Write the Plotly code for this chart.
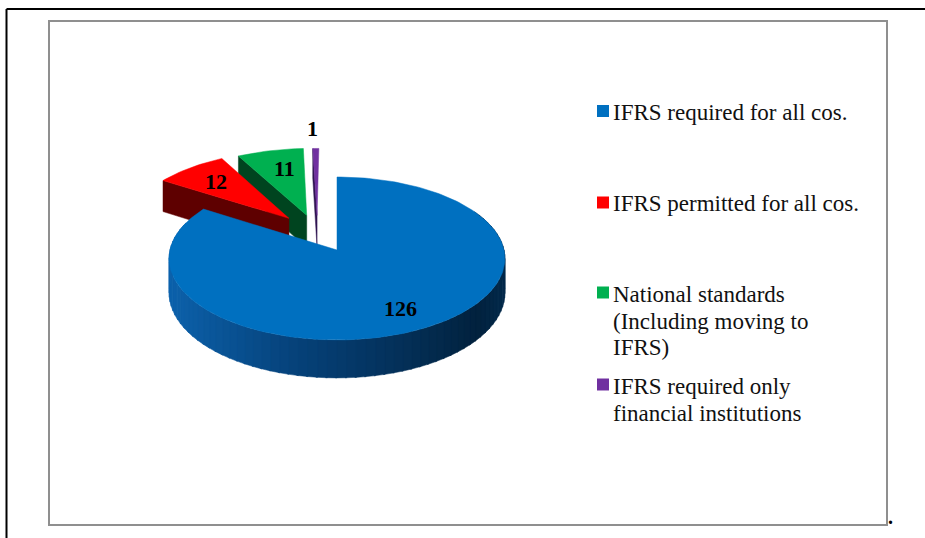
import math
import plotly.graph_objects as go

# ---- data ----
categories = [["IFRS required for all cos."], ["IFRS permitted for all cos."],
              ["National standards", "(Including moving to", "IFRS)"],
              ["IFRS required only", "financial institutions"]]
values = [126, 12, 11, 1]
value_labels = ["126", "12", "11", "1"]

# ---- styles ----
top_colors = ["#0070c0", "#ff0000", "#00b050", "#7030a0"]
face_colors = ["#0a4f8c", "#5e0000", "#00441f", "#2f1450"]
# slice displacement (pie-plane units): blue stays, others pulled out and back
explode = [(0, 0), (-0.30, 0.41), (-0.19, 0.45), (-0.125, 0.45)]
label_xy = [(400, 308), (216, 181), (284, 168), (312, 128)]
legend_y = [111, 202.5, 292.5, 384.5]
legend_text_y = [[112], [203], [294, 321, 347], [386, 413]]

CX, CY, RX, RY, K, DEPTH = 337, 250, 167, 80.6, 0.104, 34
FONT = "Liberation Serif"


def project(wx, wy, drop=0.0):
    s = 1 / (1 + K * wy)
    return CX + RX * wx * s, CY - RY * wy * s + drop * s


def rim(a0, a1, off, drop=0.0, n=None):
    n = n or max(3, int(abs(a1 - a0) / 1.5))
    pts = []
    for i in range(n + 1):
        t = math.radians(a0 + (a1 - a0) * i / n)
        pts.append(project(math.sin(t) + off[0], math.cos(t) + off[1], drop))
    return pts


def poly(fig, pts, color):
    xs = [p[0] for p in pts] + [pts[0][0]]
    ys = [p[1] for p in pts] + [pts[0][1]]
    fig.add_trace(go.Scatter(x=xs, y=ys, mode="lines", fill="toself", fillcolor=color,
                             line=dict(color=color, width=0.5), hoverinfo="skip",
                             showlegend=False))


def wall_color(x):
    stops = [(170, (13, 98, 172)), (300, (6, 66, 122)), (420, (4, 46, 84)),
             (480, (2, 34, 62)), (505, (4, 42, 76))]
    for (x0, c0), (x1, c1) in zip(stops, stops[1:]):
        if x <= x1:
            f = max(0, (x - x0) / (x1 - x0))
            return "rgb(%d,%d,%d)" % tuple(c0[i] + (c1[i] - c0[i]) * f for i in range(3))
    return "rgb(4,42,76)"


fig = go.Figure()

total = sum(values)
angles = [0]
for v in values:
    angles.append(angles[-1] + 360 * v / total)

# exploded slices, far ones first; each shows its left cut face and its top
for i in [3, 2, 1]:
    a0, a1, off = angles[i], angles[i + 1], explode[i]
    apex = project(off[0], off[1])
    apex_low = project(off[0], off[1], DEPTH)
    t = math.radians(a0)
    outer = project(math.sin(t) + off[0], math.cos(t) + off[1])
    outer_low = project(math.sin(t) + off[0], math.cos(t) + off[1], DEPTH)
    poly(fig, [outer, apex, apex_low, outer_low], face_colors[i])
    poly(fig, [apex] + rim(a0, a1, off), top_colors[i])

# main slice: shaded outer wall, then its top
a0, a1 = angles[0], angles[1]
step = 3
a = 60
while a < 290:
    b = min(a + step, 290)
    up = rim(a, b + 0.5, (0, 0), 0, 2)
    low = rim(b + 0.5, a, (0, 0), DEPTH, 2)
    poly(fig, up + low, wall_color(up[0][0]))
    a = b
poly(fig, [project(0, 0)] + rim(a0, a1, (0, 0)), top_colors[0])

# legend keys
for lines, color, y in zip(categories, top_colors, legend_y):
    fig.add_trace(go.Scatter(x=[603], y=[y], mode="markers", showlegend=False, hoverinfo="skip",
                             marker=dict(symbol="square", size=12, color=color),
                             name=" ".join(lines)))

annotations = []
for t, (x, y) in zip(value_labels, label_xy):
    annotations.append(dict(x=x, y=y, text="<b>%s</b>" % t, showarrow=False,
                            font=dict(family=FONT, size=22, color="#000000")))
for lines, ys in zip(categories, legend_text_y):
    for line, y in zip(lines, ys):
        annotations.append(dict(x=611, y=y, text=line, showarrow=False, xanchor="left",
                                font=dict(family=FONT, size=23, color="#111111")))
annotations.append(dict(x=890, y=517, text="<b>.</b>", showarrow=False,
                        font=dict(family=FONT, size=20, color="#000000")))

shapes = [
    dict(type="rect", x0=49, y0=21, x1=887, y1=525, line=dict(color="#8f8f8f", width=2)),
    dict(type="line", x0=6.5, y0=9, x1=925, y1=9, line=dict(color="#000000", width=2)),
    dict(type="line", x0=6.5, y0=9, x1=6.5, y1=538, line=dict(color="#000000", width=2)),
]

fig.update_layout(
    width=925, height=538, margin=dict(l=0, r=0, t=0, b=0),
    paper_bgcolor="#ffffff", plot_bgcolor="#ffffff", showlegend=False,
    xaxis=dict(range=[0, 925], visible=False),
    yaxis=dict(range=[538, 0], visible=False),
    annotations=annotations, shapes=shapes,
)
fig.write_html("out.html", config={"displayModeBar": False},
               post_script="document.body.style.margin='0';document.body.style.overflow='hidden';")
